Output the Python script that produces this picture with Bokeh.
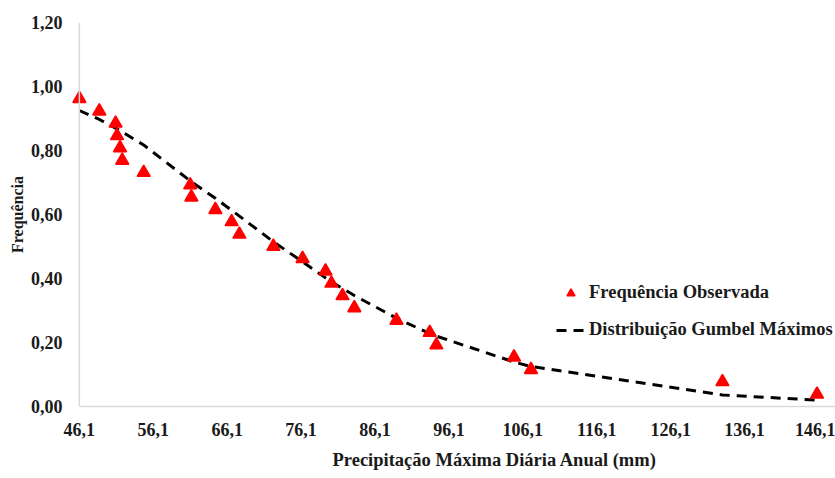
from bokeh.plotting import figure
from bokeh.models import FixedTicker, Legend, LegendItem, Title, Range1d, ColumnDataSource, Span
from bokeh.embed import file_html
from bokeh.resources import INLINE

# Observed maximum daily precipitation (mm) and observed frequency
precip_obs = [46.1, 48.8, 51.0, 51.2, 51.6, 51.9, 54.8, 61.1, 61.25, 64.5, 66.7, 67.75,
              72.35, 76.3, 79.4, 80.2, 81.7, 83.3, 89.0, 93.5, 94.4, 104.9, 107.2, 133.1, 145.9]
freq_obs = [0.962, 0.923, 0.885, 0.846, 0.808, 0.769, 0.731, 0.692, 0.654, 0.615, 0.577, 0.538,
            0.500, 0.462, 0.423, 0.385, 0.346, 0.308, 0.269, 0.231, 0.192, 0.154, 0.115, 0.077, 0.038]
# Gumbel (maxima) fitted frequency at the same abscissas
freq_gumbel = [0.925, 0.897, 0.870, 0.868, 0.862, 0.858, 0.817, 0.705, 0.702, 0.651, 0.613, 0.595,
               0.515, 0.452, 0.402, 0.390, 0.369, 0.347, 0.276, 0.228, 0.220, 0.139, 0.125, 0.036, 0.020]

x_ticks = [46.1, 56.1, 66.1, 76.1, 86.1, 96.1, 106.1, 116.1, 126.1, 136.1, 146.1]
x_tick_labels = ["46,1", "56,1", "66,1", "76,1", "86,1", "96,1", "106,1", "116,1", "126,1", "136,1", "146,1"]
y_ticks = [0.0, 0.2, 0.4, 0.6, 0.8, 1.0, 1.2]
y_tick_labels = ["0,00", "0,20", "0,40", "0,60", "0,80", "1,00", "1,20"]
x_origin = 46.1

FONT = "Liberation Serif"
TXT = "#1a1a1a"
AX = "#d9d9d9"

p = figure(width=835, height=478, output_backend="svg", toolbar_location=None,
           x_range=Range1d(44.9, 148.4), y_range=Range1d(0, 1.2),
           min_border_left=70, min_border_right=0, min_border_top=22, min_border_bottom=70)
p.outline_line_color = None
p.grid.visible = False
p.background_fill_color = "white"
p.border_fill_color = "white"

# vertical axis line at the first category value
p.add_layout(Span(location=x_origin, dimension="height", line_color=AX, line_width=1.5))

src_obs = ColumnDataSource(dict(x=precip_obs, y=freq_obs))
src_fit = ColumnDataSource(dict(x=precip_obs, y=freq_gumbel))

r_line = p.line("x", "y", source=src_fit, line_color="black", line_width=3, line_dash="10 7")
r_pts = p.scatter("x", "y", source=src_obs, marker="triangle", size=13,
                  fill_color="#ff0000", line_color="#ff0000", line_width=1.5)

for ax in (p.xaxis[0], p.yaxis[0]):
    ax.axis_line_color = AX
    ax.axis_line_width = 1.5
    ax.major_tick_line_color = None
    ax.minor_tick_line_color = None
    ax.major_tick_out = 0
    ax.major_tick_in = 0
    ax.major_label_text_font = FONT
    ax.major_label_text_font_style = "bold"
    ax.major_label_text_font_size = "18px"
    ax.major_label_text_color = TXT

p.yaxis.axis_line_color = None
p.xaxis.ticker = FixedTicker(ticks=x_ticks)
p.xaxis.major_label_overrides = dict(zip(x_ticks, x_tick_labels))
p.xaxis.major_label_standoff = 16
p.xaxis.bounds = (x_origin, 148.4)
p.yaxis.ticker = FixedTicker(ticks=y_ticks)
p.yaxis.major_label_overrides = dict(zip(y_ticks, y_tick_labels))
p.yaxis.major_label_standoff = 8

p.yaxis.axis_label = "Frequência"
p.yaxis.axis_label_text_font = FONT
p.yaxis.axis_label_text_font_style = "bold"
p.yaxis.axis_label_text_font_size = "16px"
p.yaxis.axis_label_text_color = TXT
p.yaxis.axis_label_standoff = 2

xtitle = Title(text="Precipitação Máxima Diária Anual (mm)", align="left", offset=262,
               text_font=FONT, text_font_style="bold", text_font_size="18.5px",
               text_color=TXT, standoff=18)
p.add_layout(xtitle, "below")

legend = Legend(items=[LegendItem(label="Frequência Observada", renderers=[r_pts]),
                       LegendItem(label="Distribuição Gumbel Máximos", renderers=[r_line])],
                location=(486, 66), orientation="vertical",
                glyph_width=29, glyph_height=20, label_height=20, label_standoff=4,
                spacing=16, padding=0, margin=0,
                border_line_color=None, background_fill_alpha=0,
                label_text_font=FONT, label_text_font_style="bold",
                label_text_font_size="18.5px", label_text_color=TXT)
p.add_layout(legend)

open("out.html", "w").write(file_html(p, INLINE))
